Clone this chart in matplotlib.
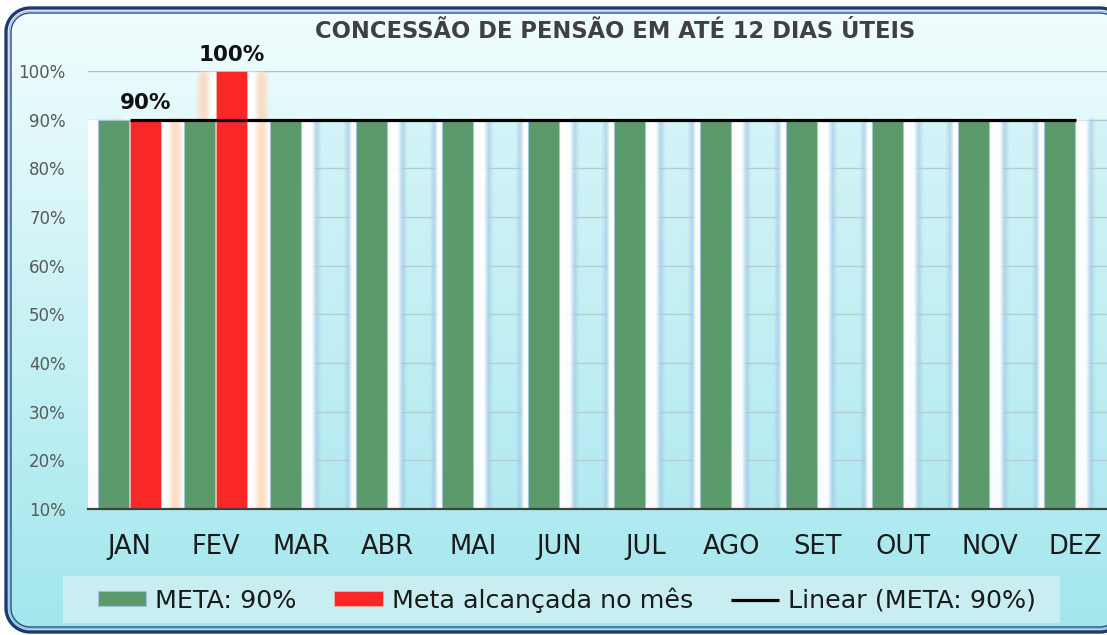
import numpy as np
import matplotlib
matplotlib.use('Agg')
import matplotlib.pyplot as plt
from matplotlib.patches import Polygon, Rectangle

meses = ['JAN', 'FEV', 'MAR', 'ABR', 'MAI', 'JUN', 'JUL', 'AGO', 'SET', 'OUT', 'NOV', 'DEZ']
meta = [90, 90, 90, 90, 90, 90, 90, 90, 90, 90, 90, 90]
alcancada = [90, 100, np.nan, np.nan, np.nan, np.nan, np.nan, np.nan, np.nan, np.nan, np.nan, np.nan]
niveis_y = [10, 20, 30, 40, 50, 60, 70, 80, 90, 100]

titulo = 'CONCESSÃO DE PENSÃO EM ATÉ 12 DIAS ÚTEIS'
nomes = ['META: 90%', 'Meta alcançada no mês', 'Linear (META: 90%)']

VERDE = '#5b9a6b'
VERMELHO = '#fa2727'

W, H = 1107, 635
plt.rcParams['font.family'] = 'DejaVu Sans'
plt.rcParams['savefig.bbox'] = 'standard'
fig = plt.figure(figsize=(W / 100, H / 100), dpi=100)


def retangulo_redondo(x0, y0, x1, y1, r, n=24):
    # vertices de um retangulo de cantos arredondados, em pixels
    pts = []
    for cx, cy, a0 in [(x1 - r, y1 - r, 0), (x0 + r, y1 - r, 90), (x0 + r, y0 + r, 180), (x1 - r, y0 + r, 270)]:
        a = np.radians(np.linspace(a0, a0 + 90, n))
        pts.append(np.column_stack([cx + r * np.cos(a), cy + r * np.sin(a)]))
    pts = np.vstack(pts)
    return np.vstack([pts, pts[:1]])


# fundo com degrade e moldura arredondada (lado direito fica cortado)
bg = fig.add_axes([0, 0, 1, 1])
bg.set_axis_off()
bg.set_xlim(0, W)
bg.set_ylim(0, H)
topo = np.array([0.95, 0.994, 0.996])
base = np.array([0.63, 0.905, 0.93])
t = np.linspace(0, 1, 256)[:, None]
grad = (base * (1 - t) + topo * t)[:, None, :]
im = bg.imshow(grad, extent=[0, W, 0, H], aspect='auto', origin='lower', interpolation='bilinear')
DIR = 1124
contorno = retangulo_redondo(6, 3, DIR, 627, 24)
forma = Polygon(contorno, closed=True, facecolor='none', edgecolor='none')
bg.add_patch(forma)
im.set_clip_path(forma)
for ins, cor, lw in [(0, '#1e3a72', 2.4), (3.2, '#9fb6da', 0.8), (5.0, '#2a4a85', 1.0)]:
    v = retangulo_redondo(6 + ins, 3 + ins, DIR - ins, 627 - ins, 24 - ins)
    bg.plot(v[:, 0], v[:, 1], color=cor, lw=lw, zorder=3)
# caixa da legenda
bg.add_patch(Rectangle((63, H - 623), 997, 47, facecolor='#c9eef1', edgecolor='none', zorder=2))
bg.set_xlim(0, W)
bg.set_ylim(0, H)

fig.text(615 / W, 1 - 31 / H, titulo, ha='center', va='center', fontsize=16.3,
         fontweight='bold', color='#404040')

ax = fig.add_axes([88 / W, 1 - 509 / H, (W - 88) / W, (509 - 71) / H])
ax.set_facecolor('none')
x = np.arange(len(meses))
PX = 1 / 86.0
larg = 0.355
off = 0.187

BRANCO = (1, 1, 1, 0.95)
BORDA = (0.64, 0.79, 0.9, 0.75)
CENTRO = (0.72, 0.92, 0.95, 0.35)
LARANJA = (0.99, 0.84, 0.72, 0.8)


def perfil(pos, cores, n):
    xs = np.arange(n) + 0.5
    cores = np.array(cores)
    return np.stack([np.interp(xs, pos, cores[:, k]) for k in range(4)], axis=1)


def coluna(x0, prf, alto, z):
    ys = np.linspace(10, alto + 2, 200)
    fade = np.clip((alto + 0.6 - ys) / 1.2, 0, 1)
    img = np.repeat(prf[None, :, :], len(ys), axis=0)
    img[:, :, 3] *= fade[:, None]
    ax.imshow(img, extent=[x0, x0 + len(prf) * PX, 10, alto + 2], origin='lower',
              aspect='auto', interpolation='bilinear', zorder=z)


# faixa branca antes do primeiro mes
ax.add_patch(Rectangle((-0.483, 10), x[0] - off - larg / 2 + 0.483, meta[0] - 10,
                       facecolor='white', alpha=0.95, edgecolor='none', zorder=1))

for i in x:
    x0 = i - PX
    if np.isnan(alcancada[i]):
        prf = perfil([0, 11, 16, 21, 42, 47, 51, 56],
                     [BRANCO, BRANCO, BORDA, CENTRO, CENTRO, BORDA, BRANCO, BRANCO], 56)
        coluna(x0, prf, meta[i], 1)
    else:
        prf = perfil([0, 56], [BRANCO, BRANCO], 56)
        coluna(x0, prf, meta[i], 1)
        # brilho laranja em volta da barra vermelha
        n = 31 + 44
        xs = np.arange(n) + 0.5 - 22
        d = np.maximum(np.maximum(-xs, xs - 31), 0)
        cores = np.array([BRANCO, BRANCO, LARANJA, LARANJA, LARANJA[:3] + (0,)])
        dp = [0, 6, 12, 15, 22]
        halo = np.stack([np.interp(d, dp, cores[:, k]) for k in range(4)], axis=1)
        coluna(i + PX - 22 * PX, halo, alcancada[i], 1.5)

b1 = ax.bar(x - off, meta, larg, color=VERDE, edgecolor='#a3c2dc', linewidth=0.8, zorder=2)
b2 = ax.bar(x + off, alcancada, larg, color=VERMELHO, edgecolor='#f7b0a8', linewidth=0.6, zorder=2)

coef = np.polyfit(x, meta, 1)
l1, = ax.plot(x, np.polyval(coef, x), color='black', lw=2.3, zorder=4, solid_capstyle='butt')

for i, v in enumerate(alcancada):
    if not np.isnan(v):
        ax.annotate(f'{v:.0f}%', (x[i] + off, v), xytext=(0, 4.5), textcoords='offset points',
                    ha='center', va='bottom', fontsize=15.5, fontweight='bold',
                    color='#111111', annotation_clip=False, zorder=5)

ax.set_xlim(-0.483, 11.366)
ax.set_ylim(10, 100)
ax.set_yticks(niveis_y, [f'{v}%' for v in niveis_y])
ax.set_xticks(x, meses)
ax.tick_params(axis='y', length=0, pad=16, labelsize=12, labelcolor='#595959')
ax.tick_params(axis='x', length=0, pad=18, labelsize=18.5, labelcolor='#1a1a1a')
ax.grid(axis='y', color='#b4bec2', lw=1.0)
ax.set_axisbelow(True)
for s in ['top', 'left', 'right']:
    ax.spines[s].set_visible(False)
ax.spines['bottom'].set_color('#404040')
ax.spines['bottom'].set_linewidth(1.6)
ax.spines['bottom'].set_zorder(4)

leg = fig.legend([b1, b2, l1], nomes, loc='center', bbox_to_anchor=(567 / W, 1 - 600 / H),
                 ncol=3, frameon=False, fontsize=18.3, handlelength=1.9, handleheight=0.5,
                 handletextpad=0.35, columnspacing=1.5, borderpad=0)
for tx in leg.get_texts():
    tx.set_color('#1a1a1a')

fig.savefig('out.png', dpi=100)
